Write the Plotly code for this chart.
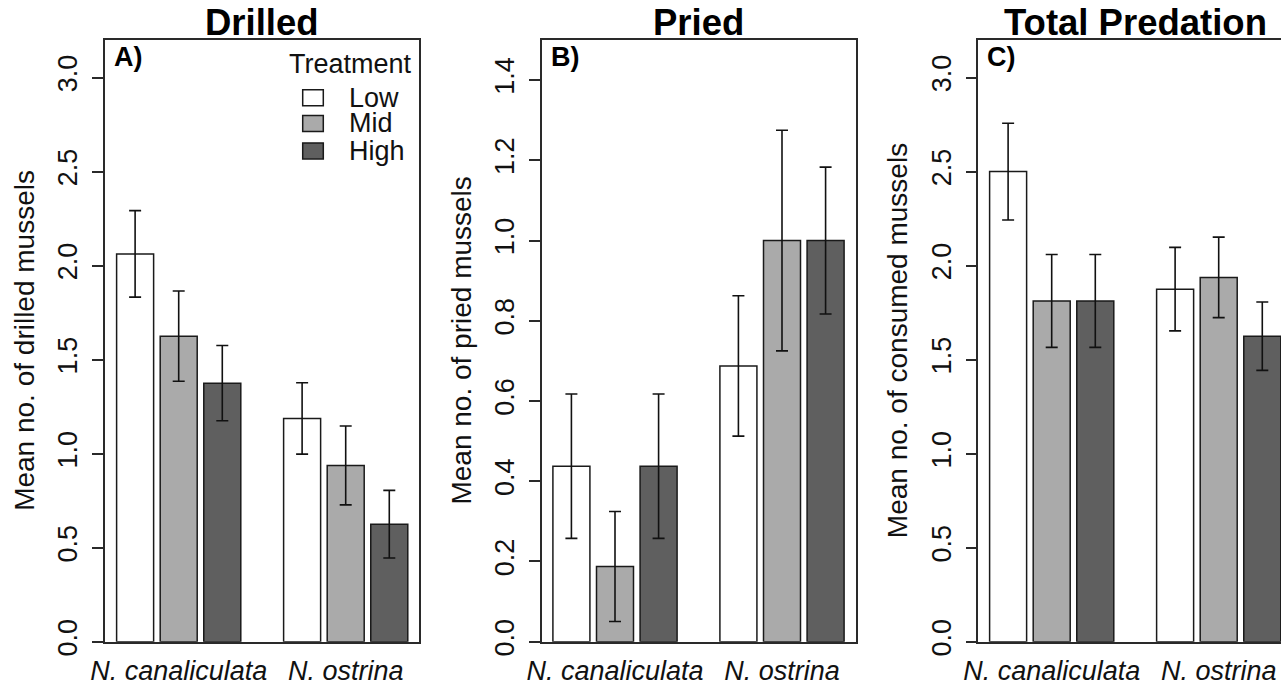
import plotly.graph_objects as go

# ---------------- data ----------------
categories = ["N. canaliculata", "N. ostrina"]
treatments = ["Low", "Mid", "High"]

drilled_low = [2.0625, 1.1875]
drilled_mid = [1.625, 0.9375]
drilled_high = [1.375, 0.625]
drilled_low_se = [0.23, 0.19]
drilled_mid_se = [0.24, 0.21]
drilled_high_se = [0.20, 0.18]

pried_low = [0.4375, 0.6875]
pried_mid = [0.1875, 1.0]
pried_high = [0.4375, 1.0]
pried_low_se = [0.18, 0.175]
pried_mid_se = [0.137, 0.275]
pried_high_se = [0.18, 0.183]

total_low = [2.5, 1.875]
total_mid = [1.8125, 1.9375]
total_high = [1.8125, 1.625]
total_low_se = [0.257, 0.222]
total_mid_se = [0.247, 0.214]
total_high_se = [0.247, 0.182]

panel_titles = ["Drilled", "Pried", "Total Predation"]
panel_letters = ["A)", "B)", "C)"]
y_titles = ["Mean no. of drilled mussels", "Mean no. of pried mussels",
            "Mean no. of consumed mussels"]
ticks_a = [0.0, 0.5, 1.0, 1.5, 2.0, 2.5, 3.0]
ticks_b = [0.0, 0.2, 0.4, 0.6, 0.8, 1.0, 1.2, 1.4]
ticks_c = [0.0, 0.5, 1.0, 1.5, 2.0, 2.5, 3.0]

# ---------------- styling ----------------
W, H = 1281, 688
FONT = "Liberation Sans, Arial, sans-serif"
fills = {"Low": "#FFFFFF", "Mid": "#AAAAAA", "High": "#5F5F5F"}
EDGE = "#1a1a1a"
LINE = "#2a2a2a"


def px(v):
    return v / W


def py(v):
    return 1 - v / H


top_px, bot_px = 40.0, 641.7
ydom = [py(bot_px), py(top_px)]
frames = [(105.0, 419.3), (541.7, 856.0), (978.3, 1281.0)]
centers0 = [178.7, 615.0, 1051.7]   # pixel centre of first group
unit = 167.0                          # pixels between group centres

panels = [
    (("x", "y"), [drilled_low, drilled_mid, drilled_high],
     [drilled_low_se, drilled_mid_se, drilled_high_se], ticks_a, 3.2),
    (("x2", "y2"), [pried_low, pried_mid, pried_high],
     [pried_low_se, pried_mid_se, pried_high_se], ticks_b, 1.5),
    (("x3", "y3"), [total_low, total_mid, total_high],
     [total_low_se, total_mid_se, total_high_se], ticks_c, 3.2),
]

fig = go.Figure()
for (xa, ya), means, ses, _, _ in panels:
    for t, m, s in zip(treatments, means, ses):
        fig.add_trace(go.Bar(
            x=categories, y=m, name=t, xaxis=xa, yaxis=ya,
            marker=dict(color=fills[t], line=dict(color=EDGE, width=1.5)),
            error_y=dict(type="data", array=s, visible=True, color="#111111",
                         thickness=1.6, width=6),
            showlegend=False, hoverinfo="skip",
        ))

layout = dict(
    width=W, height=H, autosize=False, template="none",
    margin=dict(l=0, r=0, t=0, b=0, pad=0),
    paper_bgcolor="white", plot_bgcolor="white",
    barmode="group", bargap=0.217, bargroupgap=0.151,
    font=dict(family=FONT, size=27, color="#111111"),
    showlegend=False,
)

annotations = []
shapes = []
for i, ((xa, ya), means, ses, tks, ymax) in enumerate(panels):
    left, right = frames[i]
    c0 = centers0[i]
    xr = [-(c0 - left) / unit, (right - c0) / unit]
    suffix = "" if i == 0 else str(i + 1)
    layout["xaxis" + suffix] = dict(
        domain=[px(left), px(right)], anchor=ya, type="category",
        range=xr, showline=True, linecolor=LINE, linewidth=1.6,
        mirror=True, ticks="", showgrid=False, zeroline=False,
        automargin=False, fixedrange=True, ticklabelstandoff=4,
        tickfont=dict(family=FONT, size=27, style="italic", color="#111111"),
    )
    layout["yaxis" + suffix] = dict(
        domain=ydom, anchor=xa, range=[0, ymax],
        tickvals=tks, tickformat=".1f", ticks="outside", ticklen=11,
        tickwidth=1.5, tickcolor=LINE, tickangle=-90,
        showline=True, linecolor=LINE, linewidth=1.6,
        mirror=(i < 2), showgrid=False, zeroline=False,
        automargin=False, fixedrange=True, ticklabelstandoff=4,
        tickfont=dict(family=FONT, size=27, color="#111111"),
    )
    # panel title
    annotations.append(dict(
        text="<b>%s</b>" % panel_titles[i], xref="paper", yref="paper",
        x=px((left + left + 314.3) / 2), y=py(22.5), xanchor="center",
        yanchor="middle", showarrow=False,
        font=dict(family=FONT, size=36.5, color="#000000")))
    # panel letter
    annotations.append(dict(
        text="<b>%s</b>" % panel_letters[i], xref="paper", yref="paper",
        x=px(left + 7), y=py(57.5), xanchor="left", yanchor="middle",
        showarrow=False, font=dict(family=FONT, size=27, color="#000000")))
    # y title
    annotations.append(dict(
        text=y_titles[i], xref="paper", yref="paper",
        x=px(left - 80), y=py((top_px + bot_px) / 2), xanchor="center",
        yanchor="middle", textangle=-90, showarrow=False,
        font=dict(family=FONT, size=28, color="#111111")))

# legend (panel A)
annotations.append(dict(
    text="Treatment", xref="paper", yref="paper", x=px(350), y=py(64),
    xanchor="center", yanchor="middle", showarrow=False,
    font=dict(family=FONT, size=27, color="#111111")))
leg_rows = [97.8, 123.4, 150.9]
for t, yc in zip(treatments, leg_rows):
    shapes.append(dict(
        type="rect", xref="paper", yref="paper",
        x0=px(302.7), x1=px(323.3), y0=py(yc + 8), y1=py(yc - 8),
        fillcolor=fills[t], line=dict(color=EDGE, width=1.5)))
    annotations.append(dict(
        text=t, xref="paper", yref="paper", x=px(347), y=py(yc),
        xanchor="left", yanchor="middle", showarrow=False,
        font=dict(family=FONT, size=27, color="#111111")))

layout["annotations"] = annotations
layout["shapes"] = shapes
fig.update_layout(**layout)

fig.write_html(
    "out.html",
    config={"displayModeBar": False},
    post_script="document.body.style.margin='0';"
                "document.body.style.padding='0';"
                "document.body.style.overflow='hidden';",
)
